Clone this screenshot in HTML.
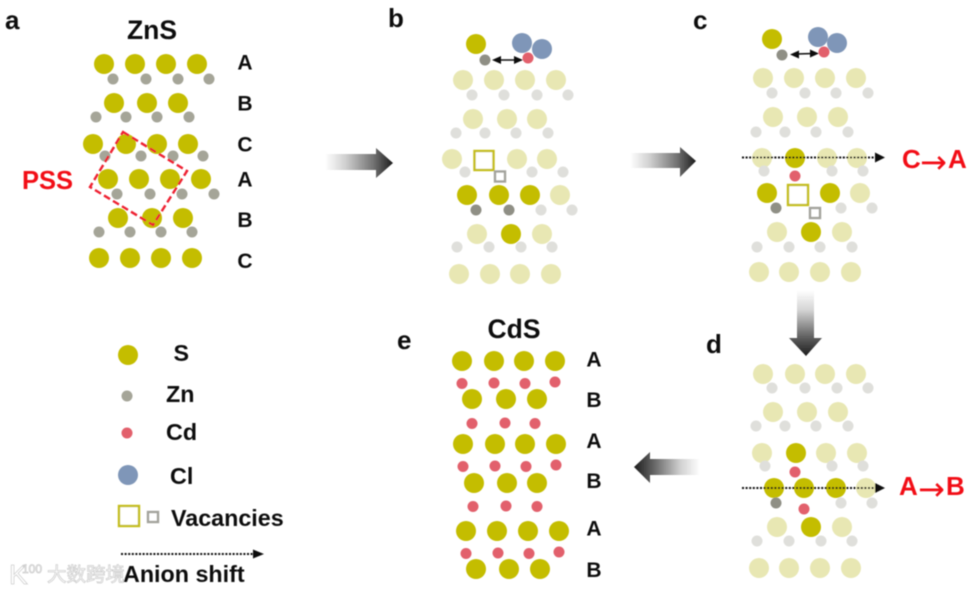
<!DOCTYPE html>
<html>
<head>
<meta charset="utf-8">
<style>
html,body{margin:0;padding:0;background:#fff}
svg{display:block}
text{font-family:"Liberation Sans","Noto Sans CJK SC",sans-serif;font-weight:bold;fill:#111}
.s{fill:#c4bd02}.sp{fill:#e8e7b3}.z{fill:#a5a598}.zd{fill:#8f8f85}.zp{fill:#dfdfdb}.c{fill:#e2606c}.l{fill:#7f96b8}
text.r{fill:#f20d16}
.ar{font-family:"DejaVu Sans",sans-serif;font-weight:normal}
.m{font-size:21px;text-anchor:middle}
.lg{font-size:23.300px}
.h{font-size:26px}
.t{font-size:26.500px;text-anchor:middle}
.dot{stroke:#111;stroke-width:2;stroke-dasharray:2 1.6;fill:none}
.vb{fill:#fff;stroke:#c4bd1e;stroke-width:2.4}
.vs{fill:#fff;stroke:#a3a39c;stroke-width:2.4}
text.wm{fill:#fff;stroke:#cfcfcf;stroke-width:.8;font-weight:normal}
</style>
</head>
<body>
<svg width="976" height="592" viewBox="0 0 976 592" xmlns="http://www.w3.org/2000/svg">
<defs>
<filter id="b" x="-5%" y="-5%" width="110%" height="110%"><feGaussianBlur stdDeviation="0.55"/></filter>
<linearGradient id="gr" x1="0" x2="1" y1="0" y2="0"><stop offset="0" stop-color="#fff"/><stop offset=".3" stop-color="#d0d0d0"/><stop offset=".72" stop-color="#707070"/><stop offset="1" stop-color="#1c1c1c"/></linearGradient>
<linearGradient id="gl" x1="1" x2="0" y1="0" y2="0"><stop offset="0" stop-color="#fff"/><stop offset=".3" stop-color="#d0d0d0"/><stop offset=".72" stop-color="#606060"/><stop offset="1" stop-color="#1c1c1c"/></linearGradient>
<linearGradient id="gd" x1="0" x2="0" y1="0" y2="1"><stop offset="0" stop-color="#fff"/><stop offset=".3" stop-color="#d5d5d5"/><stop offset=".72" stop-color="#5f5f5f"/><stop offset="1" stop-color="#1c1c1c"/></linearGradient>
</defs>
<g filter="url(#b)">
<!-- panel labels -->
<text class="h" x="5" y="29">a</text>
<text class="h" x="388" y="27">b</text>
<text class="h" x="693" y="29">c</text>
<text class="h" x="706" y="353">d</text>
<text class="h" x="397" y="349">e</text>
<text class="t" x="152" y="39">ZnS</text>
<text class="t" x="514" y="338">CdS</text>

<!-- panel a -->
<g class="s">
<circle cx="104" cy="64" r="10"/><circle cx="135" cy="64" r="10"/><circle cx="166" cy="64" r="10"/><circle cx="197" cy="64" r="10"/>
<circle cx="114" cy="103" r="10"/><circle cx="147" cy="103" r="10"/><circle cx="178" cy="103" r="10"/>
<circle cx="93" cy="144" r="10"/><circle cx="126" cy="144" r="10"/><circle cx="157" cy="144" r="10"/><circle cx="188" cy="144" r="10"/>
<circle cx="108" cy="179" r="10"/><circle cx="139" cy="179" r="10"/><circle cx="170" cy="179" r="10"/><circle cx="201" cy="179" r="10"/>
<circle cx="118" cy="218" r="10"/><circle cx="152" cy="218" r="10"/><circle cx="183" cy="218" r="10"/>
<circle cx="99" cy="258" r="10"/><circle cx="130" cy="258" r="10"/><circle cx="161" cy="258" r="10"/><circle cx="192" cy="258" r="10"/>
</g>
<g class="z">
<circle cx="113" cy="79" r="5.5"/><circle cx="146" cy="79" r="5.5"/><circle cx="178" cy="79" r="5.5"/><circle cx="209" cy="79" r="5.5"/>
<circle cx="96" cy="117" r="5.5"/><circle cx="126" cy="117" r="5.5"/><circle cx="157" cy="117" r="5.5"/><circle cx="189" cy="117" r="5.5"/>
<circle cx="105" cy="156" r="5.5"/><circle cx="141" cy="156" r="5.5"/><circle cx="173" cy="156" r="5.5"/><circle cx="203" cy="156" r="5.5"/>
<circle cx="117" cy="194" r="5.5"/><circle cx="150" cy="194" r="5.5"/><circle cx="182" cy="194" r="5.5"/><circle cx="214" cy="194" r="5.5"/>
<circle cx="99" cy="232" r="5.5"/><circle cx="130" cy="232" r="5.5"/><circle cx="161" cy="232" r="5.5"/><circle cx="192" cy="232" r="5.5"/>
</g>
<polygon points="123,132 187,171 153,225 90,187" fill="none" stroke="#ee2030" stroke-width="2.4" stroke-dasharray="7 3.5"/>
<text class="m" x="245" y="69.500">A</text><text class="m" x="245" y="110.500">B</text><text class="m" x="245" y="151.500">C</text>
<text class="m" x="245" y="186.500">A</text><text class="m" x="245" y="227">B</text><text class="m" x="245" y="268">C</text>
<text class="r" x="22" y="189" font-size="25.500">PSS</text>

<!-- panel b -->
<circle class="s" cx="476" cy="44" r="10"/>
<circle class="l" cx="522" cy="43" r="10"/><circle class="l" cx="542" cy="49" r="10"/>
<circle class="zd" cx="485" cy="60" r="5.5"/><circle class="c" cx="528" cy="58" r="5.5"/>
<line x1="498" y1="60" x2="518" y2="60" stroke="#111" stroke-width="1.4"/>
<polygon points="492,60 501,56 501,64" fill="#111"/><polygon points="523,60 514,56 514,64" fill="#111"/>
<g class="sp">
<circle cx="463" cy="80" r="10"/><circle cx="494" cy="80" r="10"/><circle cx="525" cy="80" r="10"/><circle cx="556" cy="80" r="10"/>
<circle cx="473" cy="119" r="10"/><circle cx="507" cy="119" r="10"/><circle cx="537" cy="119" r="10"/>
<circle cx="452" cy="159" r="10"/><circle cx="517" cy="159" r="10"/><circle cx="547" cy="159" r="10"/>
<circle cx="560" cy="195" r="10"/>
<circle cx="477" cy="234" r="10"/><circle cx="542" cy="234" r="10"/>
<circle cx="459" cy="274" r="10"/><circle cx="490" cy="274" r="10"/><circle cx="520" cy="274" r="10"/><circle cx="551" cy="274" r="10"/>
</g>
<g class="zp">
<circle cx="472" cy="95" r="5.5"/><circle cx="504" cy="95" r="5.5"/><circle cx="537" cy="95" r="5.5"/><circle cx="568" cy="95" r="5.5"/>
<circle cx="456" cy="133" r="5.5"/><circle cx="485" cy="133" r="5.5"/><circle cx="516" cy="133" r="5.5"/><circle cx="548" cy="133" r="5.5"/>
<circle cx="465" cy="172" r="5.5"/><circle cx="532" cy="172" r="5.5"/><circle cx="563" cy="172" r="5.5"/>
<circle cx="541" cy="210" r="5.5"/><circle cx="572" cy="210" r="5.5"/>
<circle cx="457" cy="247" r="5.5"/><circle cx="489" cy="247" r="5.5"/><circle cx="521" cy="247" r="5.5"/><circle cx="552" cy="247" r="5.5"/>
</g>
<circle class="s" cx="467" cy="195" r="10"/><circle class="s" cx="499" cy="195" r="10"/><circle class="s" cx="530" cy="195" r="10"/>
<circle class="s" cx="511" cy="234" r="10"/>
<circle class="zd" cx="476" cy="210" r="5.5"/><circle class="zd" cx="509" cy="210" r="5.5"/>
<rect class="vb" x="474.500" y="151" width="19" height="19"/>
<rect class="vs" x="495" y="171.500" width="10" height="10"/>

<!-- panel c -->
<circle class="s" cx="772" cy="39" r="10"/>
<circle class="l" cx="818" cy="37" r="10"/><circle class="l" cx="837" cy="43" r="10"/>
<circle class="zd" cx="782" cy="55" r="5.5"/><circle class="c" cx="824" cy="52" r="5.5"/>
<line x1="796" y1="54" x2="814" y2="53.500" stroke="#111" stroke-width="1.4"/>
<polygon points="790,54.500 799,50.500 799,58.500" fill="#111"/><polygon points="819,53.500 810,49.500 810,57.500" fill="#111"/>
<g class="sp">
<circle cx="763" cy="78" r="10"/><circle cx="794" cy="78" r="10"/><circle cx="825" cy="78" r="10"/><circle cx="856" cy="78" r="10"/>
<circle cx="773" cy="117" r="10"/><circle cx="807" cy="117" r="10"/><circle cx="838" cy="117" r="10"/>
<circle cx="762" cy="158" r="10"/><circle cx="827" cy="158" r="10"/><circle cx="857" cy="158" r="10"/>
<circle cx="860" cy="193" r="10"/>
<circle cx="777" cy="232" r="10"/><circle cx="842" cy="232" r="10"/>
<circle cx="759" cy="272" r="10"/><circle cx="789" cy="272" r="10"/><circle cx="820" cy="272" r="10"/><circle cx="851" cy="272" r="10"/>
</g>
<g class="zp">
<circle cx="772" cy="93" r="5.5"/><circle cx="805" cy="93" r="5.5"/><circle cx="836" cy="93" r="5.5"/><circle cx="868" cy="93" r="5.5"/>
<circle cx="756" cy="132" r="5.5"/><circle cx="785" cy="132" r="5.5"/><circle cx="816" cy="132" r="5.5"/><circle cx="848" cy="132" r="5.5"/>
<circle cx="764" cy="171" r="5.5"/><circle cx="832" cy="171" r="5.5"/><circle cx="863" cy="171" r="5.5"/>
<circle cx="841" cy="208" r="5.5"/><circle cx="872" cy="208" r="5.5"/>
<circle cx="757" cy="247" r="5.5"/><circle cx="789" cy="247" r="5.5"/><circle cx="820" cy="247" r="5.5"/><circle cx="852" cy="247" r="5.5"/>
</g>
<circle class="s" cx="795" cy="158" r="10"/>
<circle class="s" cx="767" cy="193" r="10"/><circle class="s" cx="830" cy="193" r="10"/><circle class="s" cx="811" cy="232" r="10"/>
<circle class="c" cx="795" cy="176" r="5.5"/><circle class="zd" cx="776" cy="208" r="5.5"/>
<rect class="vb" x="788" y="185" width="20" height="20"/>
<rect class="vs" x="810" y="208" width="10" height="10"/>
<line class="dot" x1="742" y1="157.500" x2="876" y2="157.500"/>
<polygon points="885,157.500 875,152.500 875,162.500" fill="#111"/>
<text class="r" font-size="26"><tspan x="902" y="168">C</tspan><tspan class="ar" x="920" y="173" font-size="32">→</tspan><tspan x="948" y="168">A</tspan></text>

<!-- panel d -->
<g class="sp">
<circle cx="763" cy="374" r="10"/><circle cx="795" cy="374" r="10"/><circle cx="825" cy="374" r="10"/><circle cx="856" cy="374" r="10"/>
<circle cx="773" cy="412" r="10"/><circle cx="807" cy="412" r="10"/><circle cx="838" cy="412" r="10"/>
<circle cx="762" cy="453" r="10"/><circle cx="826" cy="453" r="10"/><circle cx="857" cy="453" r="10"/>
<circle cx="866" cy="488" r="10"/>
<circle cx="777" cy="527" r="10"/><circle cx="842" cy="527" r="10"/>
<circle cx="759" cy="568" r="10"/><circle cx="789" cy="568" r="10"/><circle cx="820" cy="568" r="10"/><circle cx="851" cy="568" r="10"/>
</g>
<g class="zp">
<circle cx="772" cy="388" r="5.5"/><circle cx="805" cy="388" r="5.5"/><circle cx="837" cy="388" r="5.5"/><circle cx="868" cy="388" r="5.5"/>
<circle cx="756" cy="426" r="5.5"/><circle cx="785" cy="426" r="5.5"/><circle cx="816" cy="426" r="5.5"/><circle cx="848" cy="426" r="5.5"/>
<circle cx="765" cy="466" r="5.5"/><circle cx="832" cy="466" r="5.5"/><circle cx="863" cy="466" r="5.5"/>
<circle cx="841" cy="503" r="5.5"/><circle cx="872" cy="503" r="5.5"/>
<circle cx="757" cy="541" r="5.5"/><circle cx="789" cy="541" r="5.5"/><circle cx="821" cy="541" r="5.5"/><circle cx="852" cy="541" r="5.5"/>
</g>
<circle class="s" cx="796" cy="453" r="10"/>
<circle class="s" cx="774" cy="488" r="10"/><circle class="s" cx="804" cy="488" r="10"/><circle class="s" cx="836" cy="488" r="10"/>
<circle class="s" cx="811" cy="527" r="10"/>
<circle class="c" cx="795" cy="472" r="5.5"/><circle class="c" cx="804" cy="509" r="5.5"/>
<circle class="zd" cx="776" cy="503" r="5.5"/>
<line class="dot" x1="742" y1="488" x2="876" y2="488"/>
<polygon points="885,488 875,483 875,493" fill="#111"/>
<text class="r" font-size="26"><tspan x="899" y="495">A</tspan><tspan class="ar" x="918" y="500" font-size="32">→</tspan><tspan x="946" y="495">B</tspan></text>

<!-- panel e -->
<g class="s">
<circle cx="462" cy="361" r="10"/><circle cx="494" cy="361" r="10"/><circle cx="524" cy="361" r="10"/><circle cx="555" cy="361" r="10"/>
<circle cx="472" cy="399" r="10"/><circle cx="506" cy="399" r="10"/><circle cx="537" cy="399" r="10"/>
<circle cx="463" cy="444" r="10"/><circle cx="495" cy="444" r="10"/><circle cx="525" cy="444" r="10"/><circle cx="556" cy="444" r="10"/>
<circle cx="474" cy="483" r="10"/><circle cx="507" cy="483" r="10"/><circle cx="537" cy="483" r="10"/>
<circle cx="466" cy="531" r="10"/><circle cx="497" cy="531" r="10"/><circle cx="528" cy="531" r="10"/><circle cx="559" cy="531" r="10"/>
<circle cx="476" cy="569" r="10"/><circle cx="509" cy="569" r="10"/><circle cx="540" cy="569" r="10"/>
</g>
<g class="c">
<circle cx="462" cy="383.500" r="5.5"/><circle cx="494" cy="383" r="5.5"/><circle cx="525" cy="383.500" r="5.5"/><circle cx="555" cy="382" r="5.5"/>
<circle cx="472" cy="423.500" r="5.5"/><circle cx="505" cy="423" r="5.5"/><circle cx="535" cy="423.500" r="5.5"/>
<circle cx="463" cy="466.500" r="5.5"/><circle cx="495" cy="466" r="5.5"/><circle cx="526" cy="466.500" r="5.5"/><circle cx="556" cy="465" r="5.5"/>
<circle cx="473" cy="506.500" r="5.5"/><circle cx="506" cy="506" r="5.5"/><circle cx="537" cy="506.500" r="5.5"/>
<circle cx="466" cy="553.500" r="5.5"/><circle cx="498" cy="553" r="5.5"/><circle cx="529" cy="553.500" r="5.5"/><circle cx="559" cy="552" r="5.5"/>
</g>
<text class="m" x="594" y="366.500">A</text><text class="m" x="594" y="407">B</text><text class="m" x="594" y="448">A</text>
<text class="m" x="594" y="488">B</text><text class="m" x="594" y="535.500">A</text><text class="m" x="594" y="577">B</text>

<!-- process arrows -->
<polygon points="325,154 376,154 376,148 393,163 376,178 376,170 325,170" fill="url(#gr)"/>
<polygon points="630,153 680,153 680,147 696,161 680,177 680,168 630,168" fill="url(#gr)"/>
<polygon points="700,459 650,459 650,452 634,467 650,483 650,475 700,475" fill="url(#gl)"/>
<polygon points="797,290 814,290 814,338 822,338 806,356 789,338 797,338" fill="url(#gd)"/>

<!-- watermark -->
<text class="wm" x="9" y="584" font-size="28">K</text>
<text class="wm" x="22" y="573" font-size="12">100</text>
<text class="wm" x="47" y="581" font-size="19.500">大数跨境</text>

<!-- legend -->
<circle class="s" cx="128" cy="355" r="10"/>
<circle class="z" cx="127" cy="396" r="5.5"/>
<circle class="c" cx="127" cy="433" r="5.5"/>
<circle class="l" cx="128" cy="475" r="10"/>
<rect class="vb" x="119" y="506" width="20" height="20"/>
<rect class="vs" x="148" y="512" width="10" height="10"/>
<text class="lg" x="173.500" y="361">S</text>
<text class="lg" x="166" y="402">Zn</text>
<text class="lg" x="166" y="440">Cd</text>
<text class="lg" x="170" y="484">Cl</text>
<text class="lg" x="171" y="526">Vacancies</text>
<line class="dot" x1="121" y1="554" x2="254" y2="554"/>
<polygon points="264,554 253,549.500 253,558.500" fill="#111"/>
<text class="lg" x="123" y="582">Anion shift</text>
</g>
</svg>
</body>
</html>
